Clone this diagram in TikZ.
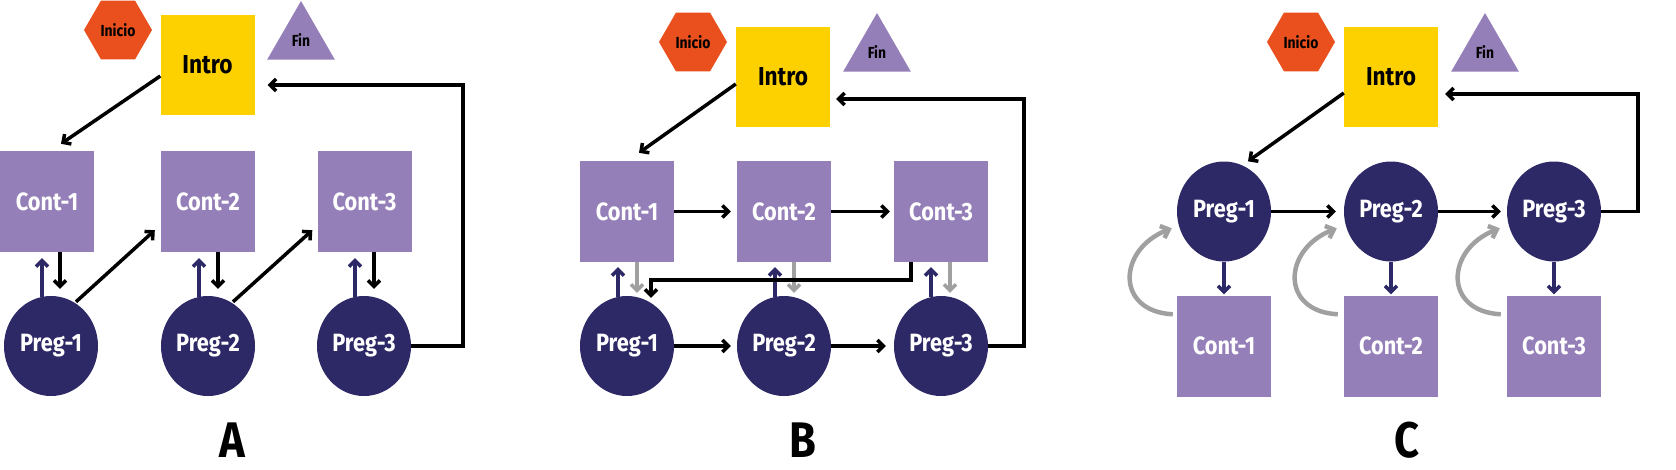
\documentclass[tikz,border=0pt]{standalone}
\usepackage{fontspec}
\setmainfont{Fira Sans}[FakeStretch=0.87]
\usetikzlibrary{shapes.geometric,arrows.meta,calc}
\definecolor{cOrange}{HTML}{E9501E}
\definecolor{cYellow}{HTML}{FDD100}
\definecolor{cLav}{HTML}{957FB8}
\definecolor{cNavy}{HTML}{2D2866}
\definecolor{cGray}{HTML}{A0A0A0}
\begin{document}
\begin{tikzpicture}[x=1pt,y=-1pt,
  cont/.style={rectangle,fill=cLav,minimum width=94pt,minimum height=101pt,inner sep=0pt,text=white,font=\bfseries\fontsize{25}{25}\selectfont},
  preg/.style={ellipse,fill=cNavy,minimum width=94pt,minimum height=100pt,inner sep=0pt,text=white,font=\bfseries\fontsize{25}{25}\selectfont},
  intro/.style={rectangle,fill=cYellow,minimum width=94pt,minimum height=100pt,inner sep=0pt,font=\bfseries\fontsize{26}{26}\selectfont},
  hexa/.style={regular polygon,regular polygon sides=6,minimum size=68pt,fill=cOrange,inner sep=0pt,font=\bfseries\fontsize{16}{16}\selectfont},
  tri/.style={regular polygon,regular polygon sides=3,minimum size=78pt,fill=cLav,inner sep=0pt,font=\bfseries\fontsize{16}{16}\selectfont},
  panel/.style={font=\bfseries\fontsize{50}{50}\selectfont},
  blk/.style={line width=3.5pt,draw=black,-{Straight Barb[length=6pt,width=12pt]}},
  nav/.style={blk,draw=cNavy},
  gry/.style={blk,draw=cGray},
  gcurve/.style={line width=4.5pt,draw=cGray,-{Straight Barb[length=7pt,width=13pt]}}
]
\useasboundingbox (0,0) rectangle (1676,469);

% ---------- Panel A ----------
\node[hexa] (iniA) at (118,30) {Inicio};
\node[intro] (introA) at (207.5,65) {Intro};
\node[tri] (finA) at (301,40) {Fin};
\node[cont] (c1A) at (47,201.5) {Cont-1};
\node[cont] (c2A) at (208,201.5) {Cont-2};
\node[cont] (c3A) at (364.5,201.5) {Cont-3};
\node[preg] (p1A) at (51,346) {Preg-1};
\node[preg] (p2A) at (208,346) {Preg-2};
\node[preg] (p3A) at (364,346) {Preg-3};
\node[panel] (labA) at (232,440) {A};

\draw[blk] ($(introA.west)+(0,11)$) -- ($(c1A.north)+(14,-7)$);
\draw[blk] (p3A.east) -- ++(52,0) |- ($(introA.east)+(13,20)$);
\draw[nav] ($(p1A.north)+(-9,1)$) -- ($(p1A.north|-c1A.south)+(-9,6)$);
\draw[blk] ($(p1A.north|-c1A.south)+(9,0)$) -- ($(p1A.north)+(9,-7)$);
\draw[blk] ($(p1A.north)+(25,6)$) -- ($(c2A.south west)+(-6,-22)$);
\draw[nav] ($(p2A.north)+(-9,1)$) -- ($(p2A.north|-c2A.south)+(-9,6)$);
\draw[blk] ($(p2A.north|-c2A.south)+(10,0)$) -- ($(p2A.north)+(10,-7)$);
\draw[blk] ($(p2A.north)+(25,6)$) -- ($(c3A.south west)+(-5,-22)$);
\draw[nav] ($(p3A.north)+(-9,1)$) -- ($(p3A.north|-c3A.south)+(-9,6)$);
\draw[blk] ($(p3A.north|-c3A.south)+(10,0)$) -- ($(p3A.north)+(10,-7)$);

% ---------- Panel B ----------
\node[hexa] (iniB) at (693,42) {Inicio};
\node[intro] (introB) at (783,77) {Intro};
\node[tri] (finB) at (877,52) {Fin};
\node[cont] (c1B) at (627,211.5) {Cont-1};
\node[cont] (c2B) at (784,211.5) {Cont-2};
\node[cont] (c3B) at (941,211.5) {Cont-3};
\node[preg] (p1B) at (627,346) {Preg-1};
\node[preg] (p2B) at (784,346) {Preg-2};
\node[preg] (p3B) at (941,346) {Preg-3};
\node[panel] (labB) at (802.5,440) {B};

\draw[blk] ($(introB.west)+(0,7)$) -- ($(c1B.north)+(12,-8)$);
\draw[blk,shorten >=6pt] (c1B) -- (c2B);
\draw[blk,shorten >=4pt] (c2B) -- (c3B);
\draw[blk,shorten >=6pt] (p1B) -- (p2B);
\draw[blk,shorten >=8pt] (p2B) -- (p3B);
\draw[blk] (p3B.east) -- ++(36,0) |- ($(introB.east)+(6,22)$);
\draw[nav] ($(p1B.north)+(-9,1)$) -- ($(p1B.north|-c1B.south)+(-9,5)$);
\draw[gry] ($(p1B.north|-c1B.south)+(10,0)$) -- ($(p1B.north)+(10,-3)$);
\draw[nav] ($(p2B.north)+(-9,1)$) -- ($(p2B.north|-c2B.south)+(-9,5)$);
\draw[gry] ($(p2B.north|-c2B.south)+(10,0)$) -- ($(p2B.north)+(10,-3)$);
\draw[nav] ($(p3B.north)+(-10,1)$) -- ($(p3B.north|-c3B.south)+(-10,5)$);
\draw[gry] ($(p3B.north|-c3B.south)+(9,0)$) -- ($(p3B.north)+(9,-3)$);
\draw[blk] ($(c3B.south)+(-30,0)$) -- ++(0,18) -| ($(p1B.north)+(24,2)$);

% ---------- Panel C ----------
\node[hexa] (iniC) at (1301,42) {Inicio};
\node[intro] (introC) at (1391,77) {Intro};
\node[tri] (finC) at (1485,52) {Fin};
\node[preg] (p1C) at (1224,211.5) {Preg-1};
\node[preg] (p2C) at (1391,211.5) {Preg-2};
\node[preg] (p3C) at (1554,211.5) {Preg-3};
\node[cont] (c1C) at (1224,346) {Cont-1};
\node[cont] (c2C) at (1391,346) {Cont-2};
\node[cont] (c3C) at (1554,346) {Cont-3};
\node[panel] (labC) at (1407,440) {C};

\draw[blk] ($(introC.west)+(0,16)$) -- ($(p1C.north)+(24,0)$);
\draw[blk,shorten >=8pt] (p1C) -- (p2C);
\draw[blk,shorten >=6pt] (p2C) -- (p3C);
\draw[blk] (p3C.east) -- ++(37,0) |- ($(introC.east)+(7,17)$);
\draw[nav,shorten >=1pt] (p1C) -- (c1C);
\draw[nav,shorten >=1pt] (p2C) -- (c2C);
\draw[nav,shorten >=1pt] (p3C) -- (c3C);
\draw[gcurve] ($(c1C.north west)+(-4,19)$) .. controls ($(c1C.north west)+(-62,16)$) and ($(c1C.north west)+(-59,-46)$) .. ($(c1C.north west)+(-5,-67)$);
\draw[gcurve] ($(c2C.north west)+(-6,19)$) .. controls ($(c2C.north west)+(-64,16)$) and ($(c2C.north west)+(-61,-46)$) .. ($(c2C.north west)+(-7,-67)$);
\draw[gcurve] ($(c3C.north west)+(-6,19)$) .. controls ($(c3C.north west)+(-64,16)$) and ($(c3C.north west)+(-61,-46)$) .. ($(c3C.north west)+(-7,-67)$);
\end{tikzpicture}
\end{document}
